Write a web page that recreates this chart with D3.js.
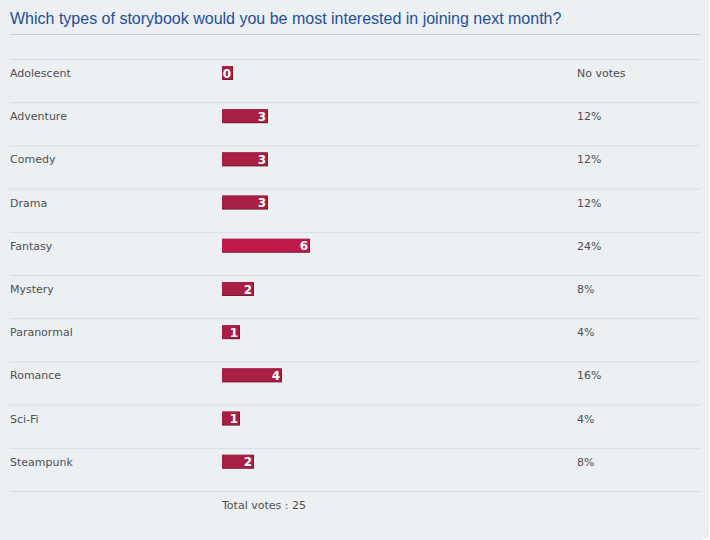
<!DOCTYPE html>
<html lang="en">
<head>
    <meta charset="UTF-8">
    <title>Storybook poll</title>
    <script src="https://cdn.jsdelivr.net/npm/d3@7"></script>
    <style>
        body { margin: 0; background: #fff; }
        svg { display: block; }
        .label, .pct, .total { font-family: "DejaVu Sans", Verdana, sans-serif; font-size: 11px; fill: #4f4f4f; }
        .title { font-family: "Liberation Sans", Arial, sans-serif; font-size: 16px; fill: #1d4f9c; }
        .val { font-family: "DejaVu Sans", Verdana, sans-serif; font-size: 12px; font-weight: bold; fill: #fff; }
        .sep { stroke: #d9dde1; stroke-width: 1; }
    </style>
</head>
<body>
    <svg width="710" height="540"></svg>

    <script>
        const title = "Which types of storybook would you be most interested in joining next month?";
        const categories = ["Adolescent", "Adventure", "Comedy", "Drama", "Fantasy", "Mystery", "Paranormal", "Romance", "Sci-Fi", "Steampunk"];
        const votes = [0, 3, 3, 3, 6, 2, 1, 4, 1, 2];
        const percentLabels = ["No votes", "12%", "12%", "12%", "24%", "8%", "4%", "16%", "4%", "8%"];
        const totalVotes = 25;

        const svg = d3.select("svg");
        const W = 710, H = 540, r = 8;

        // panel with rounded bottom-right corner
        svg.append("path")
            .attr("d", `M0,0H${W - 1}V${H - r}Q${W - 1},${H} ${W - 1 - r},${H}H0Z`)
            .attr("fill", "#ecf0f3");

        svg.append("text")
            .attr("class", "title")
            .attr("x", 10)
            .attr("y", 24)
            .text(title);

        svg.append("line")
            .attr("x1", 10).attr("x2", 700)
            .attr("y1", 34.5).attr("y2", 34.5)
            .attr("stroke", "#c9cdd1");

        const y = d3.scaleBand()
            .domain(categories)
            .range([59, 491])
            .padding(0);

        const x = d3.scaleLinear()
            .domain([0, totalVotes])
            .range([0, 350]);

        const maxVotes = d3.max(votes);
        const rows = svg.selectAll("g.row")
            .data(categories.map((c, i) => ({ c, v: votes[i], p: percentLabels[i] })))
            .enter()
            .append("g")
            .attr("class", "row")
            .attr("transform", d => `translate(0,${y(d.c)})`);

        rows.append("line")
            .attr("class", "sep")
            .attr("x1", 10).attr("x2", 700)
            .attr("y1", 0.5).attr("y2", 0.5);

        rows.append("text")
            .attr("class", "label")
            .attr("x", 10)
            .attr("y", 18)
            .text(d => d.c);

        const barW = d => Math.max(11, x(d.v) + 4);

        rows.append("rect")
            .attr("x", 222)
            .attr("y", 7)
            .attr("width", barW)
            .attr("height", 14)
            .attr("fill", "#7d1832");

        rows.append("rect")
            .attr("x", 222)
            .attr("y", 7)
            .attr("width", d => barW(d) - 1)
            .attr("height", 13)
            .attr("fill", d => d.v === maxVotes ? "#be1b4b" : "#a81f43");

        rows.append("text")
            .attr("class", "val")
            .attr("x", d => 222 + barW(d) - 2)
            .attr("y", 18.5)
            .attr("text-anchor", "end")
            .text(d => d.v);

        rows.append("text")
            .attr("class", "pct")
            .attr("x", 577)
            .attr("y", 18)
            .text(d => d.p);

        svg.append("line")
            .attr("class", "sep")
            .attr("x1", 10).attr("x2", 700)
            .attr("y1", 491.5).attr("y2", 491.5);

        svg.append("text")
            .attr("class", "total")
            .attr("x", 222)
            .attr("y", 509)
            .text("Total votes : " + totalVotes);
    </script>
</body>
</html>
